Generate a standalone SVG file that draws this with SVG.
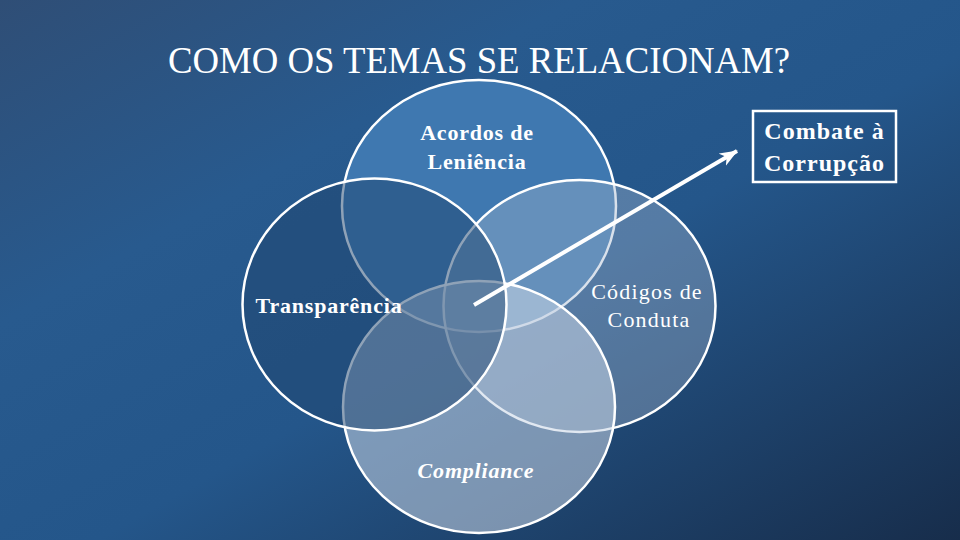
<svg xmlns="http://www.w3.org/2000/svg" width="960" height="540" viewBox="0 0 960 540">
  <defs>
    <linearGradient id="bg" x1="0" y1="0" x2="1" y2="1">
      <stop offset="0" stop-color="#2f4e76"/>
      <stop offset="0.3" stop-color="#285a8e"/>
      <stop offset="0.55" stop-color="#24568a"/>
      <stop offset="1" stop-color="#172d4b"/>
    </linearGradient>
    <marker id="arrow" markerUnits="userSpaceOnUse" markerWidth="20" markerHeight="16" refX="17" refY="8" orient="auto">
      <path d="M0,1 L18,8 L0,15 L5,8 Z" fill="#ffffff"/>
    </marker>
    <style>
      .ell { stroke: #ffffff; stroke-width: 2.5; }
      .lbl { font-family: "Liberation Serif", "Times New Roman", serif; font-size: 22px; fill: #ffffff; text-anchor: middle; letter-spacing: 0.8px; }
      .b { font-weight: bold; }
      .title { font-family: "Liberation Serif", "Times New Roman", serif; font-size: 38px; fill: #ffffff; text-anchor: middle; }
    </style>
  </defs>
  <rect x="0" y="0" width="960" height="540" fill="url(#bg)"/>
  <text class="title" x="479" y="73" textLength="622" lengthAdjust="spacingAndGlyphs">COMO OS TEMAS SE RELACIONAM?</text>

  <g id="node-acordos">
    <ellipse class="ell" cx="479" cy="206" rx="137" ry="126" fill="#3f78b0"/>
  </g>
  <g id="node-codigos">
    <ellipse class="ell" cx="579.5" cy="306" rx="136" ry="126" fill="#a0b4cc" fill-opacity="0.4"/>
  </g>
  <g id="node-compliance">
    <ellipse class="ell" cx="479" cy="407" rx="136" ry="126" fill="#c8d5e6" fill-opacity="0.55"/>
  </g>
  <g id="node-transparencia">
    <ellipse class="ell" cx="374.5" cy="304.5" rx="132" ry="126" fill="#204570" fill-opacity="0.5"/>
  </g>

  <g id="connectors">
    <line x1="474" y1="305" x2="737" y2="151" stroke="#ffffff" stroke-width="4" marker-end="url(#arrow)"/>
  </g>

  <g id="labels">
    <text class="lbl b" x="477" y="140">Acordos de</text>
    <text class="lbl b" x="477" y="169">Leniência</text>
    <text class="lbl b" x="329" y="313">Transparência</text>
    <text class="lbl" x="647" y="299" style="letter-spacing:1.2px">Códigos de</text>
    <text class="lbl" x="649" y="327" style="letter-spacing:1.2px">Conduta</text>
    <text class="lbl b" x="476" y="478" font-style="italic">Compliance</text>
  </g>

  <g id="node-combate">
    <rect x="753" y="111" width="143" height="71" fill="none" stroke="#ffffff" stroke-width="2.5"/>
    <text class="lbl b" x="824.5" y="139" style="font-size:24px;letter-spacing:1px">Combate à</text>
    <text class="lbl b" x="824.5" y="171" style="font-size:24px;letter-spacing:1px">Corrupção</text>
  </g>
</svg>
